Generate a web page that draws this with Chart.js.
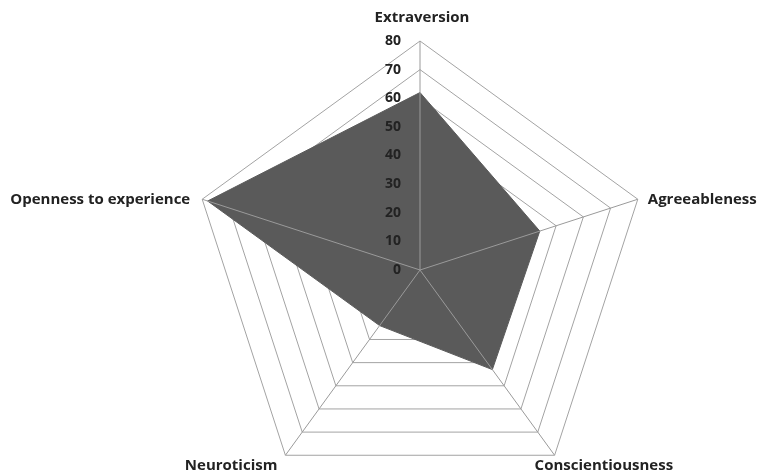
<!DOCTYPE html>
<html>
<head>
<meta charset="utf-8">
<script src="https://cdn.jsdelivr.net/npm/chart.js@4"></script>
<style>
  html, body { margin: 0; padding: 0; background: #fff; overflow: hidden; }
  #wrap { width: 758px; height: 500px; }
</style>
</head>
<body>
<div id="wrap"><canvas id="radar"></canvas></div>
<script>
const categories = ['Extraversion', 'Agreeableness', 'Conscientiousness', 'Neuroticism', 'Openness to experience'];
const scores = [62, 44, 43, 24, 78];
const tickMax = 80;
const tickStep = 10;

const FONT = '"Open Sans", sans-serif';

// spokes are drawn over the filled area, as in the original
const spokes = {
  id: 'spokes',
  afterDatasetsDraw(chart) {
    const s = chart.scales.r;
    const ctx = chart.ctx;
    ctx.save();
    ctx.strokeStyle = '#9a9a9a';
    ctx.lineWidth = 1;
    categories.forEach((_, i) => {
      const p = s.getPointPosition(i, s.drawingArea);
      ctx.beginPath();
      ctx.moveTo(s.xCenter, s.yCenter);
      ctx.lineTo(p.x, p.y);
      ctx.stroke();
    });
    ctx.restore();
  }
};

// tick numbers left of the vertical axis, category names outside the outer ring
const labelsPlugin = {
  id: 'labelsPlugin',
  afterDraw(chart) {
    const s = chart.scales.r;
    const ctx = chart.ctx;
    ctx.save();
    ctx.fillStyle = '#222';
    ctx.font = 'bold 14px ' + FONT;
    ctx.textAlign = 'right';
    ctx.textBaseline = 'middle';
    for (let v = 0; v <= tickMax; v += tickStep) {
      const d = s.getDistanceFromCenterForValue(v);
      ctx.fillText(String(v), s.xCenter - 19, s.yCenter - d);
    }

    ctx.font = 'bold 15px ' + FONT;
    const place = [
      { align: 'center', base: 'bottom', dx: 2, dy: -16 },
      { align: 'left', base: 'middle', dx: 10, dy: 0 },
      { align: 'left', base: 'middle', dx: -20, dy: 10 },
      { align: 'right', base: 'middle', dx: -8, dy: 10 },
      { align: 'right', base: 'middle', dx: -12, dy: 0 }
    ];
    categories.forEach((name, i) => {
      const p = s.getPointPosition(i, s.drawingArea);
      const o = place[i];
      ctx.textAlign = o.align;
      ctx.textBaseline = o.base;
      ctx.fillText(name, p.x + o.dx, p.y + o.dy);
    });
    ctx.restore();
  }
};

new Chart(document.getElementById('radar'), {
  type: 'radar',
  data: {
    labels: categories,
    datasets: [{
      data: scores,
      backgroundColor: '#5a5a5a',
      borderColor: '#5a5a5a',
      borderWidth: 1,
      pointRadius: 0,
      fill: true
    }]
  },
  options: {
    responsive: true,
    maintainAspectRatio: false,
    animation: false,
    layout: { padding: { top: 41, bottom: 1, left: 191, right: 109 } },
    plugins: { legend: { display: false }, tooltip: { enabled: false } },
    elements: { line: { tension: 0 } },
    scales: {
      r: {
        min: 0,
        max: tickMax,
        ticks: { stepSize: tickStep, display: false },
        grid: { color: '#a3a3a3', lineWidth: 1 },
        angleLines: { display: false },
        pointLabels: { display: false }
      }
    }
  },
  plugins: [spokes, labelsPlugin]
});
</script>
</body>
</html>
